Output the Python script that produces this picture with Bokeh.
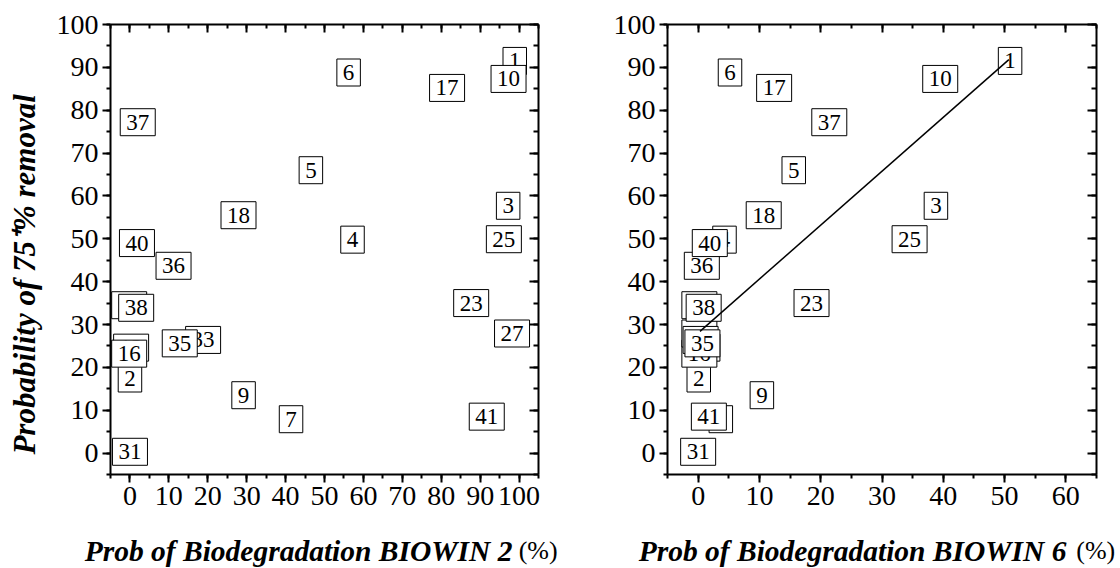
import math
from bokeh.plotting import figure
from bokeh.models import (ColumnDataSource, LinearAxis, SingleIntervalTicker, Label,
                          Range1d, CustomJSTickFormatter)
from bokeh.layouts import row
from bokeh.embed import file_html
from bokeh.resources import INLINE
from bokeh.core.properties import value

# ---------------- data ----------------
compound = ["1", "2", "3", "4", "5", "6", "7", "9", "10", "12", "16", "17", "18", "23",
            "25", "27", "30", "31", "33", "35", "36", "37", "38", "40", "41"]
removal = [91.5, 17.4, 57.7, 49.8, 66.0, 88.8, 7.9, 13.5, 87.3, 24.6, 23.2, 85.2, 55.5, 35.0,
           49.9, 27.9, 34.5, 0.3, 26.4, 25.6, 43.7, 77.2, 33.9, 49.0, 8.5]
biowin2 = [98.9, 0.0, 97.2, 57.2, 46.5, 56.2, 41.4, 29.2, 97.3, 0.3, -0.2, 81.5, 27.9, 87.7,
           96.1, 98.2, -0.2, 0.0, 18.8, 12.8, 11.2, 2.0, 1.6, 1.8, 91.7]
biowin6 = [50.9, 0.1, 38.8, 4.3, 15.6, 5.2, 3.7, 10.4, 39.5, 0.7, 0.2, 12.4, 10.7, 18.5,
           34.5, 0.2, 0.2, 0.0, 0.4, 0.7, 0.6, 21.4, 0.9, 1.9, 1.75]
fit6_x = [0.3, 50.7]
fit6_y = [28.4, 91.8]

y_title = "Probability of 75\u207A% removal"
x_title_left = "Prob of Biodegradation BIOWIN 2"
x_title_right = "Prob of Biodegradation BIOWIN 6"
x_unit = "(%)"

FONT = "Liberation Serif"


def style_axis(ax, tin, tout, min_in, min_out, labels=True):
    ax.ticker = SingleIntervalTicker(interval=10, num_minor_ticks=2)
    ax.axis_line_width = 2
    ax.axis_line_color = "black"
    ax.major_tick_line_width = 2
    ax.minor_tick_line_width = 2
    ax.major_tick_line_color = "black"
    ax.minor_tick_line_color = "black"
    ax.major_tick_in = tin
    ax.major_tick_out = tout
    ax.minor_tick_in = min_in
    ax.minor_tick_out = min_out
    if labels:
        ax.major_label_text_font = FONT
        ax.major_label_text_font_size = "28px"
        ax.major_label_text_color = "black"
        ax.major_label_standoff = 4
    else:
        ax.formatter = CustomJSTickFormatter(code="return ''")
        ax.major_label_text_font_size = "0px"
        ax.major_label_standoff = 0


def make_fig(xr, bl, br, xvals, title, t_end, t_paren, fit=None, ytitle=False):
    p = figure(width=560, height=568, x_range=Range1d(*xr), y_range=Range1d(-5, 100),
               output_backend="svg", toolbar_location=None,
               min_border_left=bl, min_border_right=br, min_border_top=24,
               min_border_bottom=90)
    p.xgrid.visible = False
    p.ygrid.visible = False
    p.outline_line_color = None
    style_axis(p.xaxis[0], 0, 8, 0, 4)
    style_axis(p.yaxis[0], 0, 8, 0, 4)
    top = LinearAxis()
    style_axis(top, 8, 0, 4, 0, labels=False)
    p.add_layout(top, "above")
    right = LinearAxis()
    style_axis(right, 9, 0, 5, 0, labels=False)
    p.add_layout(right, "right")

    src = ColumnDataSource(dict(x=xvals, y=removal, t=compound))
    p.text(x="x", y="y", text="t", source=src, text_font=value(FONT),
           text_font_size="23px", text_align="center", text_baseline="middle",
           text_color="black", background_fill_color="white",
           border_line_color="black", border_line_width=1, padding=6)
    if fit is not None:
        p.line(fit[0], fit[1], line_color="black", line_width=1.5)

    p.add_layout(Label(x=t_end, y=-22.8, text=title, text_font=FONT,
                       text_font_style="bold italic", text_font_size="29.5px",
                       text_color="black",
                       text_align="right", text_baseline="alphabetic"), "below")
    p.add_layout(Label(x=t_paren, y=-22.8, text=x_unit, text_font=FONT,
                       text_font_style="normal", text_font_size="26px",
                       text_color="black",
                       text_align="left", text_baseline="alphabetic"), "below")
    if ytitle:
        p.add_layout(Label(x=-27.1, y=41.7, text=y_title, text_font=FONT,
                           text_font_style="bold italic", text_font_size="31px",
                           text_color="black",
                           text_align="center", text_baseline="middle",
                           angle=math.pi / 2), "left")
    return p


p1 = make_fig((-5, 105), 110, 22, biowin2, x_title_left, 98.3, 99.9, ytitle=True)
p2 = make_fig((-5, 65), 107, 24, biowin6, x_title_right, 60.1, 61.7, fit=(fit6_x, fit6_y))

layout = row(p1, p2)
open("out.html", "w").write(file_html(layout, INLINE))
